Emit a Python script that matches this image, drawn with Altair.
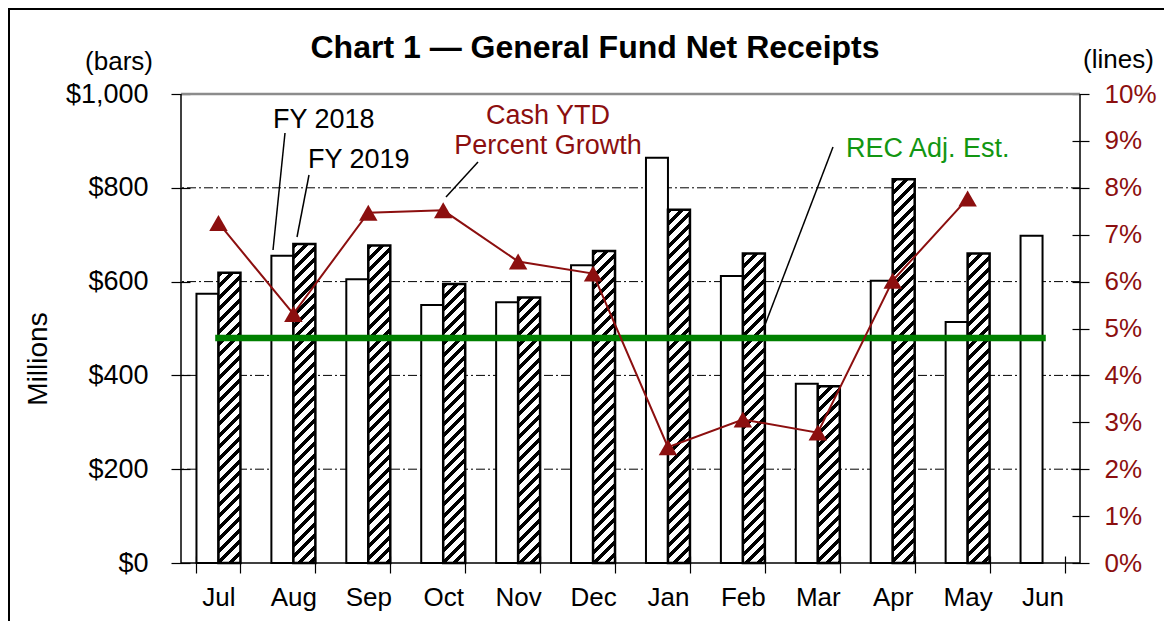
import altair as alt
import pandas as pd

# ---------------- data ----------------
months = ["Jul", "Aug", "Sep", "Oct", "Nov", "Dec", "Jan", "Feb", "Mar", "Apr", "May", "Jun"]
fy2018 = [574, 655, 605, 550, 556, 635, 864, 612, 382, 602, 514, 698]
fy2019 = [619, 680, 677, 595, 566, 665, 753, 660, 377, 818, 660, None]
growth = [7.25, 5.31, 7.47, 7.52, 6.43, 6.17, 2.47, 3.06, 2.78, 6.02, 7.77, None]
rec_estimate = 4.8
left_ticks = [0, 200, 400, 600, 800, 1000]
right_ticks = list(range(0, 11))
grid_values = [200, 400, 600, 800]
years = ["FY 2018", "FY 2019"]

# ---------------- style ----------------
W, H = 899, 469
FONT = "Liberation Sans"
DARK_RED = "#8c0f0f"
GREEN = "#008000"
GREEN_TXT = "#129612"

bars_df = pd.DataFrame(
    [{"month": m, "year": "FY 2018", "value": v} for m, v in zip(months, fy2018)]
    + [{"month": m, "year": "FY 2019", "value": v} for m, v in zip(months, fy2019) if v is not None]
)
line_df = pd.DataFrame([{"month": m, "pct": g} for m, g in zip(months, growth) if g is not None])
rec_df = pd.DataFrame({"month": months, "pct": [rec_estimate] * len(months)})
grid_df = pd.DataFrame({"value": grid_values})
top_df = pd.DataFrame({"value": [left_ticks[-1]]})
one = pd.DataFrame({"k": [0]})

x_axis = alt.Axis(
    orient="bottom", title=None, tickBand="extent", domain=False, offset=-7, tickSize=17,
    tickColor="black", tickWidth=1.2, labelFont=FONT, labelFontSize=26, labelColor="black",
    labelPadding=11, labelAngle=0,
)
left_axis = alt.Axis(
    orient="left", values=left_ticks, format="$,.0f", title=None, grid=False, domain=False,
    offset=-9, tickSize=19, tickColor="black", tickWidth=1.2, labelPadding=23,
    labelFont=FONT, labelFontSize=27, labelColor="black",
)
right_axis = alt.Axis(
    orient="right", values=right_ticks, labelExpr="datum.value + '%'", title=None, grid=False,
    domain=False, offset=-8, tickSize=17, tickColor="black", tickWidth=1.2, labelPadding=15,
    labelFont=FONT, labelFontSize=26, labelColor=DARK_RED,
)

x_enc = alt.X("month:N", sort=months,
              scale=alt.Scale(domain=months, paddingInner=0.413, paddingOuter=0.2065),
              axis=x_axis)
xoff = alt.XOffset("year:N", scale=alt.Scale(domain=years, paddingInner=0, paddingOuter=0))
y_left = alt.Y("value:Q", scale=alt.Scale(domain=[0, 1000]), axis=left_axis)
y_right = alt.Y("pct:Q", scale=alt.Scale(domain=[0, 10]), axis=right_axis)


def hatch(v):
    w = 22.0
    h = v / 1000 * H
    L = w + h
    d = w * w + h * h
    p, frac = 11.5, 0.43
    stops = []
    k = 0
    while k * p < L:
        a = k * p / L
        b = min((k * p + p * frac) / L, 1.0)
        c = min((k + 1) * p / L, 1.0)
        stops += [(a, "black"), (b, "black"), (b, "white"), (c, "white")]
        k += 1
    return alt.LinearGradient(
        gradient="linear", x1=0, y1=0, x2=w * L / d, y2=h * L / d,
        stops=[alt.GradientStop(offset=o, color=c) for o, c in stops],
    )


# ---------------- left (bars) group ----------------
grid = alt.Chart(grid_df).mark_rule(color="black", strokeWidth=1, strokeDash=[9, 3, 2, 3]).encode(y=y_left)
top_line = alt.Chart(top_df).mark_rule(color="#8c8c8c", strokeWidth=2.5).encode(y=y_left)

bars18 = alt.Chart(bars_df).transform_filter(alt.datum.year == "FY 2018").mark_bar(
    fill="white", stroke="black", strokeWidth=2
).encode(x=x_enc, xOffset=xoff, y=y_left)

bar_layers = [grid, top_line, bars18]
for m, v in zip(months, fy2019):
    if v is None:
        continue
    bar_layers.append(
        alt.Chart(bars_df)
        .transform_filter((alt.datum.year == "FY 2019") & (alt.datum.month == m))
        .mark_bar(fill=hatch(v), stroke="black", strokeWidth=2.5)
        .encode(x=x_enc, xOffset=xoff, y=y_left)
    )
left_group = alt.layer(*bar_layers)

# ---------------- right (lines) group ----------------
rec_line = alt.Chart(rec_df).mark_line(color=GREEN, strokeWidth=6.5, strokeCap="square").encode(x=x_enc, y=y_right)
growth_line = alt.Chart(line_df).mark_line(color=DARK_RED, strokeWidth=2).encode(x=x_enc, y=y_right)
growth_pts = alt.Chart(line_df).mark_point(
    shape="triangle-up", filled=True, size=340, color=DARK_RED, opacity=1
).encode(x=x_enc, y=y_right)
right_group = alt.layer(rec_line, growth_line, growth_pts)


# ---------------- annotations ----------------
def txt(t, x, y, color="black", size=27, align="left", weight="normal", angle=0, baseline="middle"):
    kw = dict(text=t, font=FONT, fontSize=size, color=color, align=align, baseline=baseline,
              fontWeight=weight)
    if angle:
        kw["angle"] = angle
    return alt.Chart(one).mark_text(**kw).encode(x=alt.value(x), y=alt.value(y))


def seg(x1, y1, x2, y2, color="black", width=1.5):
    return alt.Chart(one).mark_rule(color=color, strokeWidth=width).encode(
        x=alt.value(x1), y=alt.value(y1), x2=alt.value(x2), y2=alt.value(y2)
    )


ann = [
    # plot frame lines
    seg(0, 0, 0, H, width=1.5),
    seg(W, 0, W, H, width=1.5),
    seg(0, H, W, H, width=1.5),
    # outer frame
    seg(-172, -85, -172, H + 60, width=2),
    seg(-173, -85, W + 90, -85, width=2),
    # titles
    txt("Chart 1 \u2014 General Fund Net Receipts", 414, -36, size=32, align="center",
        weight="bold", baseline="alphabetic"),
    txt("(bars)", -28, -32, size=26, align="right"),
    txt("(lines)", 902, -34, size=26),
    txt("Millions", -142, 265, size=28, align="center", angle=270),
    # series labels
    txt("FY 2018", 92, 26),
    txt("FY 2019", 127, 66),
    txt("Cash YTD", 367, 22, color=DARK_RED, align="center"),
    txt("Percent Growth", 367, 52, color=DARK_RED, align="center"),
    txt("REC Adj. Est.", 665, 55, color=GREEN_TXT),
    # leader lines
    seg(104, 39, 92, 156),
    seg(128, 81, 116, 143),
    seg(297, 68, 265, 103),
    seg(652, 53, 582, 236),
]

chart = (
    alt.layer(left_group, right_group, *ann)
    .resolve_scale(y="independent")
    .properties(
        width=W, height=H,
        autosize=alt.AutoSizeParams(type="none"),
        padding={"left": 173, "top": 86, "right": 84, "bottom": 58},
    )
    .configure_view(stroke=None)
)

chart.save("out.html", embed_options={"renderer": "svg", "actions": False})
